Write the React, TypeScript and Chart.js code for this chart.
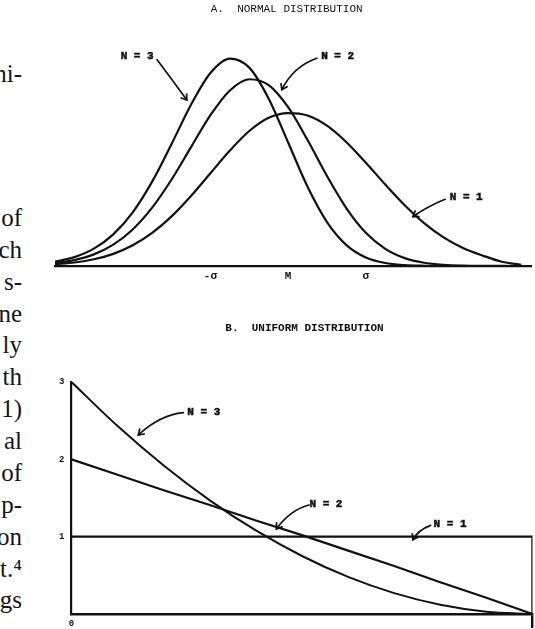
import React, { useEffect, useRef } from "react";
import { Chart, registerables } from "chart.js";

Chart.register(...registerables);

// ---------- A. Normal distribution (x in sigma units, y = density) ----------
const normalX = [-3, -2.75, -2.5, -2.25, -2, -1.75, -1.5, -1.25, -1, -0.75, -0.5, -0.25, 0,
  0.25, 0.5, 0.75, 1, 1.25, 1.5, 1.75, 2, 2.25, 2.5, 2.75, 3];
const normalN1 = [0.0044, 0.0091, 0.0175, 0.0317, 0.054, 0.0863, 0.1295, 0.1826, 0.242, 0.3011, 0.3521, 0.3867, 0.3989,
  0.3926, 0.366, 0.3228, 0.2693, 0.2125, 0.1586, 0.112, 0.0748, 0.0472, 0.0275, 0.011, 0.003];
const normalN2 = [0.0075, 0.0155, 0.0303, 0.0556, 0.0952, 0.1521, 0.2256, 0.3101, 0.3933, 0.4578, 0.4872, 0.4718, 0.4142,
  0.3285, 0.2347, 0.1506, 0.0866, 0.0446, 0.0205, 0.0084, 0.0031, 0.001, 0.0003, 0.0001, 0];
const normalN3 = [0.0113, 0.0232, 0.0453, 0.0826, 0.1401, 0.2201, 0.3184, 0.4208, 0.5036, 0.5412, 0.5175, 0.4364, 0.3221,
  0.2067, 0.1146, 0.0546, 0.0223, 0.0078, 0.0023, 0.0006, 0.0001, 0, 0, 0, 0];
const normalTicks = [-1, 0, 1];
const normalTickLabels = ["-σ", "M", "σ"];

// ---------- B. Uniform distribution ----------
const uniformX = [0, 0.1, 0.2, 0.3, 0.4, 0.5, 0.6, 0.7, 0.8, 0.9, 1];
const uniformN2 = [2, 1.8, 1.6, 1.41, 1.21, 1.02, 0.82, 0.62, 0.41, 0.21, 0];
const uniformN3 = [3, 2.43, 1.92, 1.47, 1.08, 0.75, 0.48, 0.27, 0.12, 0.03, 0];
const uniformN1X = [0, 1, 1];
const uniformN1 = [1, 1, 0];
const uniformYTicks = [1, 2, 3];
const uniformXTicks = [0, 1];

// Annotation labels with pointer arrows (data coordinates): text pos, start, control, end
type Ann = { text: string; t: [number, number]; s: [number, number]; c: [number, number]; e: [number, number] };
const normalNotes: Ann[] = [
  { text: "N = 3", t: [-1.943, 0.548], s: [-1.686, 0.538], c: [-1.493, 0.486], e: [-1.304, 0.433] },
  { text: "N = 2", t: [0.637, 0.546], s: [0.369, 0.542], c: [0.064, 0.52], e: [-0.081, 0.46] },
  { text: "N = 1", t: [2.291, 0.18], s: [2.021, 0.174], c: [1.828, 0.159], e: [1.605, 0.129] },
];
const uniformNotes: Ann[] = [
  { text: "N = 3", t: [0.287, 2.607], s: [0.2425, 2.604], c: [0.192, 2.574], e: [0.145, 2.316] },
  { text: "N = 2", t: [0.552, 1.423], s: [0.515, 1.41], c: [0.474, 1.345], e: [0.4445, 1.1] },
  { text: "N = 1", t: [0.821, 1.164], s: [0.779, 1.146], c: [0.752, 1.087], e: [0.7406, 0.96] },
];

const marginLines: [string, number][] = [
  ["ni-", 82], ["of", 226], ["ch", 258], ["s-", 290], ["ne", 322], ["ly", 353], ["th", 385], ["1)", 417],
  ["al", 449], ["of", 481], ["p-", 513], ["on", 545], ["t.⁴", 577], ["gs", 608],
];

const INK = "#111111";
const MONO = '"Liberation Mono", "DejaVu Sans Mono", monospace';

function makeNotesPlugin(items: Ann[]) {
  return {
    id: "notes",
    afterDatasetsDraw(chart: any) {
      const { ctx } = chart;
      const xs = chart.scales.x;
      const ys = chart.scales.y;
      const px = (p: [number, number]) => [xs.getPixelForValue(p[0]), ys.getPixelForValue(p[1])];
      ctx.save();
      ctx.strokeStyle = INK;
      ctx.fillStyle = INK;
      ctx.lineCap = "round";
      for (const a of items) {
        const [tx, ty] = px(a.t);
        const [sx, sy] = px(a.s);
        const [cx, cy] = px(a.c);
        const [ex, ey] = px(a.e);
        ctx.font = `bold 11px ${MONO}`;
        ctx.textAlign = "center";
        ctx.textBaseline = "middle";
        ctx.lineWidth = 0.5;
        ctx.fillText(a.text, tx, ty);
        ctx.strokeText(a.text, tx, ty);
        ctx.lineWidth = 1.7;
        ctx.beginPath();
        ctx.moveTo(sx, sy);
        ctx.quadraticCurveTo(cx, cy, ex, ey);
        ctx.stroke();
        const ang = Math.atan2(ey - cy, ex - cx);
        const L = 6;
        ctx.beginPath();
        ctx.moveTo(ex - L * Math.cos(ang - 0.6), ey - L * Math.sin(ang - 0.6));
        ctx.lineTo(ex, ey);
        ctx.lineTo(ex - L * Math.cos(ang + 0.6), ey - L * Math.sin(ang + 0.6));
        ctx.stroke();
      }
      ctx.restore();
    },
  };
}

function NormalChart() {
  const ref = useRef<HTMLCanvasElement>(null);
  useEffect(() => {
    if (!ref.current) return;
    const mk = (vals: number[]) => normalX.map((x, i) => ({ x, y: vals[i] }));
    const line = { borderColor: INK, borderWidth: 2.2, pointRadius: 0, cubicInterpolationMode: "monotone", fill: false };
    const chart = new Chart(ref.current, {
      type: "line",
      data: {
        datasets: [
          { label: "N = 1", data: mk(normalN1), ...line } as any,
          { label: "N = 2", data: mk(normalN2), ...line } as any,
          { label: "N = 3", data: mk(normalN3), ...line } as any,
        ],
      },
      options: {
        animation: false,
        responsive: false,
        layout: { padding: { left: 55, right: 4, top: 36, bottom: 0 } },
        plugins: { legend: { display: false }, tooltip: { enabled: false }, title: { display: false } },
        scales: {
          x: {
            type: "linear",
            min: -3,
            max: 3.125,
            afterBuildTicks: (s: any) => { s.ticks = normalTicks.map((v) => ({ value: v })); },
            afterFit: (s: any) => { s.height = 34; },
            ticks: {
              autoSkip: false,
              maxRotation: 0,
              padding: 4,
              color: INK,
              font: { family: MONO, size: 11, weight: "bold" },
              callback: (v: any) => normalTickLabels[normalTicks.indexOf(Number(v))] ?? "",
            },
            grid: { display: false, drawTicks: false },
            border: { display: true, color: INK, width: 2.2 },
          },
          y: { display: false, min: 0, max: 0.6 },
        },
      } as any,
      plugins: [makeNotesPlugin(normalNotes)],
    });
    return () => chart.destroy();
  }, []);
  return <canvas ref={ref} width={535} height={300} style={{ position: "absolute", left: 0, top: 0 }} />;
}

function UniformChart() {
  const ref = useRef<HTMLCanvasElement>(null);
  useEffect(() => {
    if (!ref.current) return;
    const base = { borderColor: INK, borderWidth: 2, pointRadius: 0, fill: false };
    const chart = new Chart(ref.current, {
      type: "line",
      data: {
        datasets: [
          { label: "N = 1", data: uniformN1X.map((x, i) => ({ x, y: uniformN1[i] })), ...base, borderWidth: 2.4, tension: 0 } as any,
          { label: "N = 2", data: uniformX.map((x, i) => ({ x, y: uniformN2[i] })), ...base, borderWidth: 2.2, tension: 0 } as any,
          { label: "N = 3", data: uniformX.map((x, i) => ({ x, y: uniformN3[i] })), ...base, cubicInterpolationMode: "monotone" } as any,
        ],
      },
      options: {
        animation: false,
        responsive: false,
        layout: { padding: { left: 0, right: 2.5, top: 82, bottom: 0 } },
        plugins: { legend: { display: false }, tooltip: { enabled: false }, title: { display: false } },
        scales: {
          x: {
            type: "linear",
            min: 0,
            max: 1,
            afterBuildTicks: (s: any) => { s.ticks = uniformXTicks.map((v) => ({ value: v })); },
            afterFit: (s: any) => { s.height = 15; },
            ticks: {
              autoSkip: false,
              maxRotation: 0,
              padding: -10,
              color: INK,
              font: { family: MONO, size: 9, weight: "bold" },
              callback: (v: any) => (Number(v) === 0 ? "0" : ""),
            },
            grid: {
              display: true,
              drawOnChartArea: false,
              drawTicks: true,
              tickLength: 14,
              lineWidth: 2.4,
              color: (c: any) => (c.tick && c.tick.value === 1 ? INK : "rgba(0,0,0,0)"),
            },
            border: { display: true, color: INK, width: 2.4 },
          },
          y: {
            min: 0,
            max: 3,
            afterBuildTicks: (s: any) => { s.ticks = uniformYTicks.map((v) => ({ value: v })); },
            afterFit: (s: any) => { s.width = 71.5; },
            ticks: {
              padding: 7,
              color: INK,
              font: { family: MONO, size: 9, weight: "bold" },
              callback: (v: any) => String(v),
            },
            grid: { display: false, drawTicks: false },
            border: { display: true, color: INK, width: 2.2 },
          },
        },
      } as any,
      plugins: [makeNotesPlugin(uniformNotes)],
    });
    return () => chart.destroy();
  }, []);
  return <canvas ref={ref} width={535} height={329} style={{ position: "absolute", left: 0, top: 300 }} />;
}

export default function App() {
  const titleBase: React.CSSProperties = {
    position: "absolute",
    width: 300,
    textAlign: "center",
    fontFamily: MONO,
    fontSize: 11,
    lineHeight: "12px",
    whiteSpace: "pre",
    color: INK,
  };
  return (
    <div style={{ position: "absolute", left: 0, top: 0, width: 535, height: 629, overflow: "hidden", background: "#fff" }}>
      {marginLines.map(([t, baseline], i) => (
        <div
          key={i}
          style={{
            position: "absolute",
            left: -40,
            width: 62,
            top: baseline - 21,
            textAlign: "right",
            fontFamily: '"Liberation Serif", "DejaVu Serif", serif',
            fontSize: 25,
            lineHeight: "25px",
            color: "#151515",
            whiteSpace: "pre",
          }}
        >
          {t}
        </div>
      ))}
      <NormalChart />
      <UniformChart />
      <div style={{ ...titleBase, left: 286.7 - 150, top: 3.3 }}>A.  NORMAL DISTRIBUTION</div>
      <div style={{ ...titleBase, left: 304.5 - 150, top: 322, fontWeight: "bold" }}>B.  UNIFORM DISTRIBUTION</div>
    </div>
  );
}
